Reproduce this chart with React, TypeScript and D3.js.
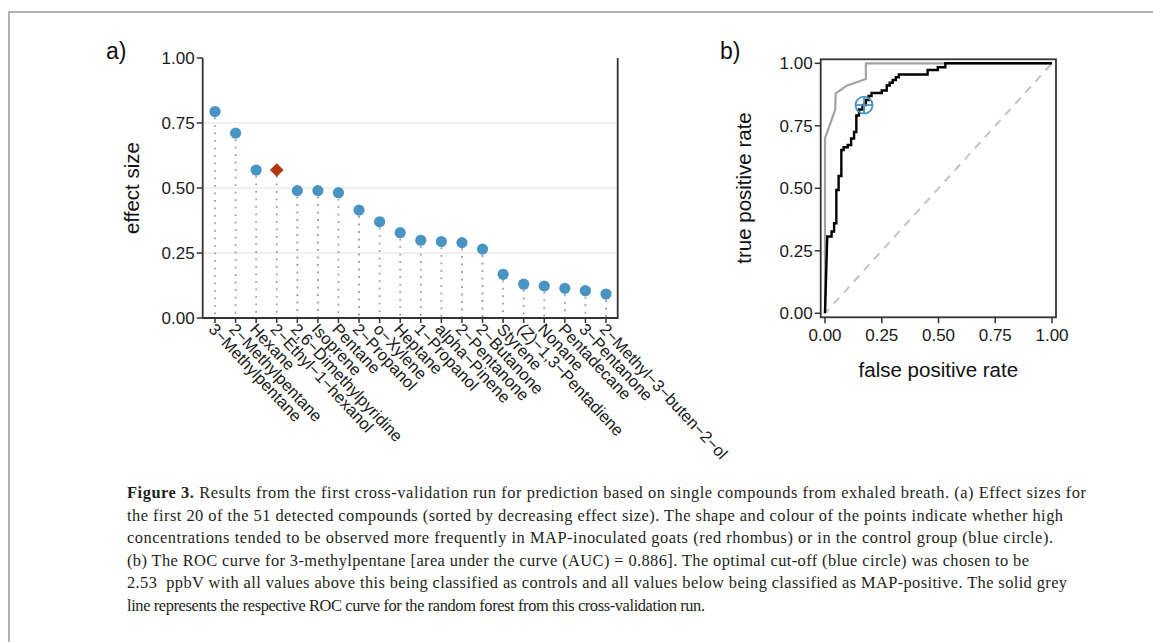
import React from "react";
import * as d3 from "d3";

const compounds = [
  "3−Methylpentane", "2−Methylpentane", "Hexane", "2−Ethyl−1−hexanol",
  "2,6−Dimethylpyridine", "Isoprene", "Pentane", "2−Propanol", "o−Xylene",
  "Heptane", "1−Propanol", "alpha−Pinene", "2−Pentanone", "2−Butanone",
  "Styrene", "(Z)−1,3−Pentadiene", "Nonane", "Pentadecane", "3−Pentanone",
  "2−Methyl−3−buten−2−ol",
];
const effectSize = [
  0.794, 0.711, 0.569, 0.569, 0.490, 0.490, 0.482, 0.415, 0.370, 0.328,
  0.299, 0.294, 0.290, 0.265, 0.168, 0.130, 0.123, 0.114, 0.105, 0.092,
];
const group = [
  "control", "control", "control", "MAP", "control", "control", "control",
  "control", "control", "control", "control", "control", "control", "control",
  "control", "control", "control", "control", "control", "control",
];
const yTicksA = [0, 0.25, 0.5, 0.75, 1];
const gridA = [0.25, 0.5, 0.75];

// ROC of 3-methylpentane (black)
const rocFpr = [
  0, 0.010, 0.029, 0.029, 0.040, 0.040, 0.050, 0.050, 0.060, 0.060, 0.072,
  0.072, 0.082, 0.082, 0.100, 0.100, 0.115, 0.115, 0.128, 0.128, 0.138,
  0.138, 0.150, 0.150, 0.165, 0.165, 0.180, 0.180, 0.192, 0.192, 0.205,
  0.205, 0.250, 0.250, 0.272, 0.272, 0.285, 0.285, 0.298, 0.298, 0.312,
  0.312, 0.325, 0.325, 0.452, 0.452, 0.497, 0.497, 0.530, 0.530, 1.0,
];
const rocTpr = [
  0, 0.307, 0.307, 0.327, 0.327, 0.360, 0.360, 0.493, 0.493, 0.549, 0.549,
  0.653, 0.653, 0.664, 0.664, 0.673, 0.673, 0.699, 0.699, 0.725, 0.725,
  0.791, 0.791, 0.815, 0.815, 0.833, 0.833, 0.853, 0.853, 0.869, 0.869,
  0.881, 0.881, 0.891, 0.891, 0.911, 0.911, 0.922, 0.922, 0.933, 0.933,
  0.944, 0.944, 0.955, 0.955, 0.973, 0.973, 0.984, 0.984, 1.0, 1.0,
];
// ROC of random forest (grey)
const rfFpr = [0, 0, 0.045, 0.047, 0.095, 0.18, 0.18, 1.0];
const rfTpr = [0, 0.70, 0.815, 0.88, 0.91, 0.937, 1.0, 1.0];
const cutoff = { fpr: 0.172, tpr: 0.833 };
const ticksB = [0, 0.25, 0.5, 0.75, 1];

const captionLines = [
  { bold: "Figure 3.", text: " Results from the first cross-validation run for prediction based on single compounds from exhaled breath. (a) Effect sizes for", end: 1086 },
  { bold: "", text: "the first 20 of the 51 detected compounds (sorted by decreasing effect size). The shape and colour of the points indicate whether high", end: 1063 },
  { bold: "", text: "concentrations tended to be observed more frequently in MAP-inoculated goats (red rhombus) or in the control group (blue circle).", end: 1053 },
  { bold: "", text: "(b) The ROC curve for 3-methylpentane [area under the curve (AUC) = 0.886]. The optimal cut-off (blue circle) was chosen to be", end: 1029 },
  { bold: "", text: "2.53  ppbV with all values above this being classified as controls and all values below being classified as MAP-positive. The solid grey", end: 1067 },
  { bold: "", text: "line represents the respective ROC curve for the random forest from this cross-validation run.", end: 705 },
];

const SANS = "'Liberation Sans', Arial, Helvetica, sans-serif";
const SERIF = "'Liberation Serif', 'Times New Roman', serif";
const BLUE = "#4895c3";
const RED = "#b3380b";
const AX = "#333333";

export default function App() {
  // panel a scales
  const xA = d3.scalePoint<string>().domain(compounds).range([215, 606]);
  const yA = d3.scaleLinear().domain([0, 1]).range([318, 58]);
  const aLeft = 202.7, aRight = 617.7, aBottom = 318, aTop = 58;

  // panel b scales
  const xB = d3.scaleLinear().domain([0, 1]).range([825, 1052]);
  const yB = d3.scaleLinear().domain([0, 1]).range([313.3, 63.3]);
  const bL = 820.7, bR = 1056, bT = 59.3, bB = 317.3;

  const line = d3.line<[number, number]>().x((d) => xB(d[0])).y((d) => yB(d[1]));
  const rocPath = line(rocFpr.map((f, i) => [f, rocTpr[i]]) as [number, number][]) || "";
  const rfPath = line(rfFpr.map((f, i) => [f, rfTpr[i]]) as [number, number][]) || "";

  const cx = xB(cutoff.fpr), cy = yB(cutoff.tpr), cr = 8.5;

  return (
    <svg width={1153} height={642} style={{ position: "absolute", left: 0, top: 0, background: "#fff" }}>
      {/* frame */}
      <path d="M9,642 L9,12 L1153,12" fill="none" stroke="#9a9a9a" strokeWidth={1.5} />

      {/* ---------- panel a ---------- */}
      <text x={106} y={59} fontFamily={SANS} fontSize={23} fill="#111">a)</text>
      {gridA.map((v) => (
        <line key={v} x1={aLeft} x2={aRight} y1={yA(v)} y2={yA(v)} stroke="#ebebeb" strokeWidth={1.6} />
      ))}
      {compounds.map((c, i) => (
        <line key={c} x1={xA(c)} x2={xA(c)} y1={yA(effectSize[i]) + 6} y2={aBottom - 1}
          stroke="#a0a0a0" strokeWidth={1.8} strokeDasharray="1.8 5.7" />
      ))}
      {compounds.map((c, i) =>
        group[i] === "MAP" ? (
          <path key={c} d={`M${xA(c)},${yA(effectSize[i]) - 6.8} l6.8,6.8 l-6.8,6.8 l-6.8,-6.8 Z`} fill={RED} />
        ) : (
          <circle key={c} cx={xA(c)} cy={yA(effectSize[i])} r={5.6} fill={BLUE} />
        )
      )}
      <path d={`M${aLeft},${aTop} L${aLeft},${aBottom} L${aRight},${aBottom} L${aRight},${aTop}`}
        fill="none" stroke={AX} strokeWidth={1.8} />
      {yTicksA.map((v) => (
        <g key={v}>
          <line x1={aLeft - 6} x2={aLeft} y1={yA(v)} y2={yA(v)} stroke={AX} strokeWidth={1.5} />
          <text x={aLeft - 8} y={yA(v)} dy="0.36em" textAnchor="end" fontFamily={SANS} fontSize={17} fill="#1a1a1a">
            {v.toFixed(2)}
          </text>
        </g>
      ))}
      {compounds.map((c) => (
        <g key={c}>
          <line x1={xA(c)} x2={xA(c)} y1={aBottom} y2={aBottom + 5} stroke={AX} strokeWidth={1.5} />
          <text transform={`translate(${(xA(c) as number) - 3},${aBottom + 8}) rotate(47)`} dy="0.35em"
            fontFamily={SANS} fontSize={16.5} fill="#1a1a1a">{c}</text>
        </g>
      ))}
      <text transform={`translate(139,188) rotate(-90)`} textAnchor="middle" fontFamily={SANS} fontSize={20.5} fill="#111">
        effect size
      </text>

      {/* ---------- panel b ---------- */}
      <text x={720} y={59} fontFamily={SANS} fontSize={23} fill="#111">b)</text>
      <line x1={xB(0)} y1={yB(0)} x2={xB(1)} y2={yB(1)} stroke="#c4c4c4" strokeWidth={2} strokeDasharray="8 7" strokeDashoffset={-13} />
      <path d={rfPath} fill="none" stroke="#a2a2a2" strokeWidth={2.2} strokeLinejoin="round" />
      <path d={rocPath} fill="none" stroke="#000" strokeWidth={2.4} strokeLinejoin="miter" />
      <circle cx={cx} cy={cy} r={cr} fill="none" stroke={BLUE} strokeWidth={1.8} />
      <line x1={cx - cr} x2={cx + cr} y1={cy} y2={cy} stroke={BLUE} strokeWidth={1.8} />
      <line x1={cx} x2={cx} y1={cy - cr} y2={cy + cr} stroke={BLUE} strokeWidth={1.8} />
      <rect x={bL} y={bT} width={bR - bL} height={bB - bT} fill="none" stroke={AX} strokeWidth={1.8} />
      {ticksB.map((v) => (
        <g key={"y" + v}>
          <line x1={bL - 6} x2={bL} y1={yB(v)} y2={yB(v)} stroke={AX} strokeWidth={1.5} />
          <text x={bL - 8} y={yB(v)} dy="0.36em" textAnchor="end" fontFamily={SANS} fontSize={17} fill="#1a1a1a">
            {v.toFixed(2)}
          </text>
        </g>
      ))}
      {ticksB.map((v) => (
        <g key={"x" + v}>
          <line x1={xB(v)} x2={xB(v)} y1={bB} y2={bB + 6} stroke={AX} strokeWidth={1.5} />
          <text x={xB(v)} y={bB + 24} textAnchor="middle" fontFamily={SANS} fontSize={17} fill="#1a1a1a">
            {v.toFixed(2)}
          </text>
        </g>
      ))}
      <text x={(bL + bR) / 2} y={377} textAnchor="middle" fontFamily={SANS} fontSize={20.5} fill="#111">
        false positive rate
      </text>
      <text transform={`translate(751,188) rotate(-90)`} textAnchor="middle" fontFamily={SANS} fontSize={20.5} fill="#111">
        true positive rate
      </text>

      {/* ---------- caption ---------- */}
      {captionLines.map((l, i) => (
        <text key={i} x={127} y={498 + i * 22.6} fontFamily={SERIF} fontSize={16.4} fill="#231f20"
          textLength={l.end - 127} lengthAdjust="spacing" xmlSpace="preserve">
          {l.bold ? <tspan fontWeight="bold">{l.bold}</tspan> : null}
          {l.text}
        </text>
      ))}
    </svg>
  );
}
